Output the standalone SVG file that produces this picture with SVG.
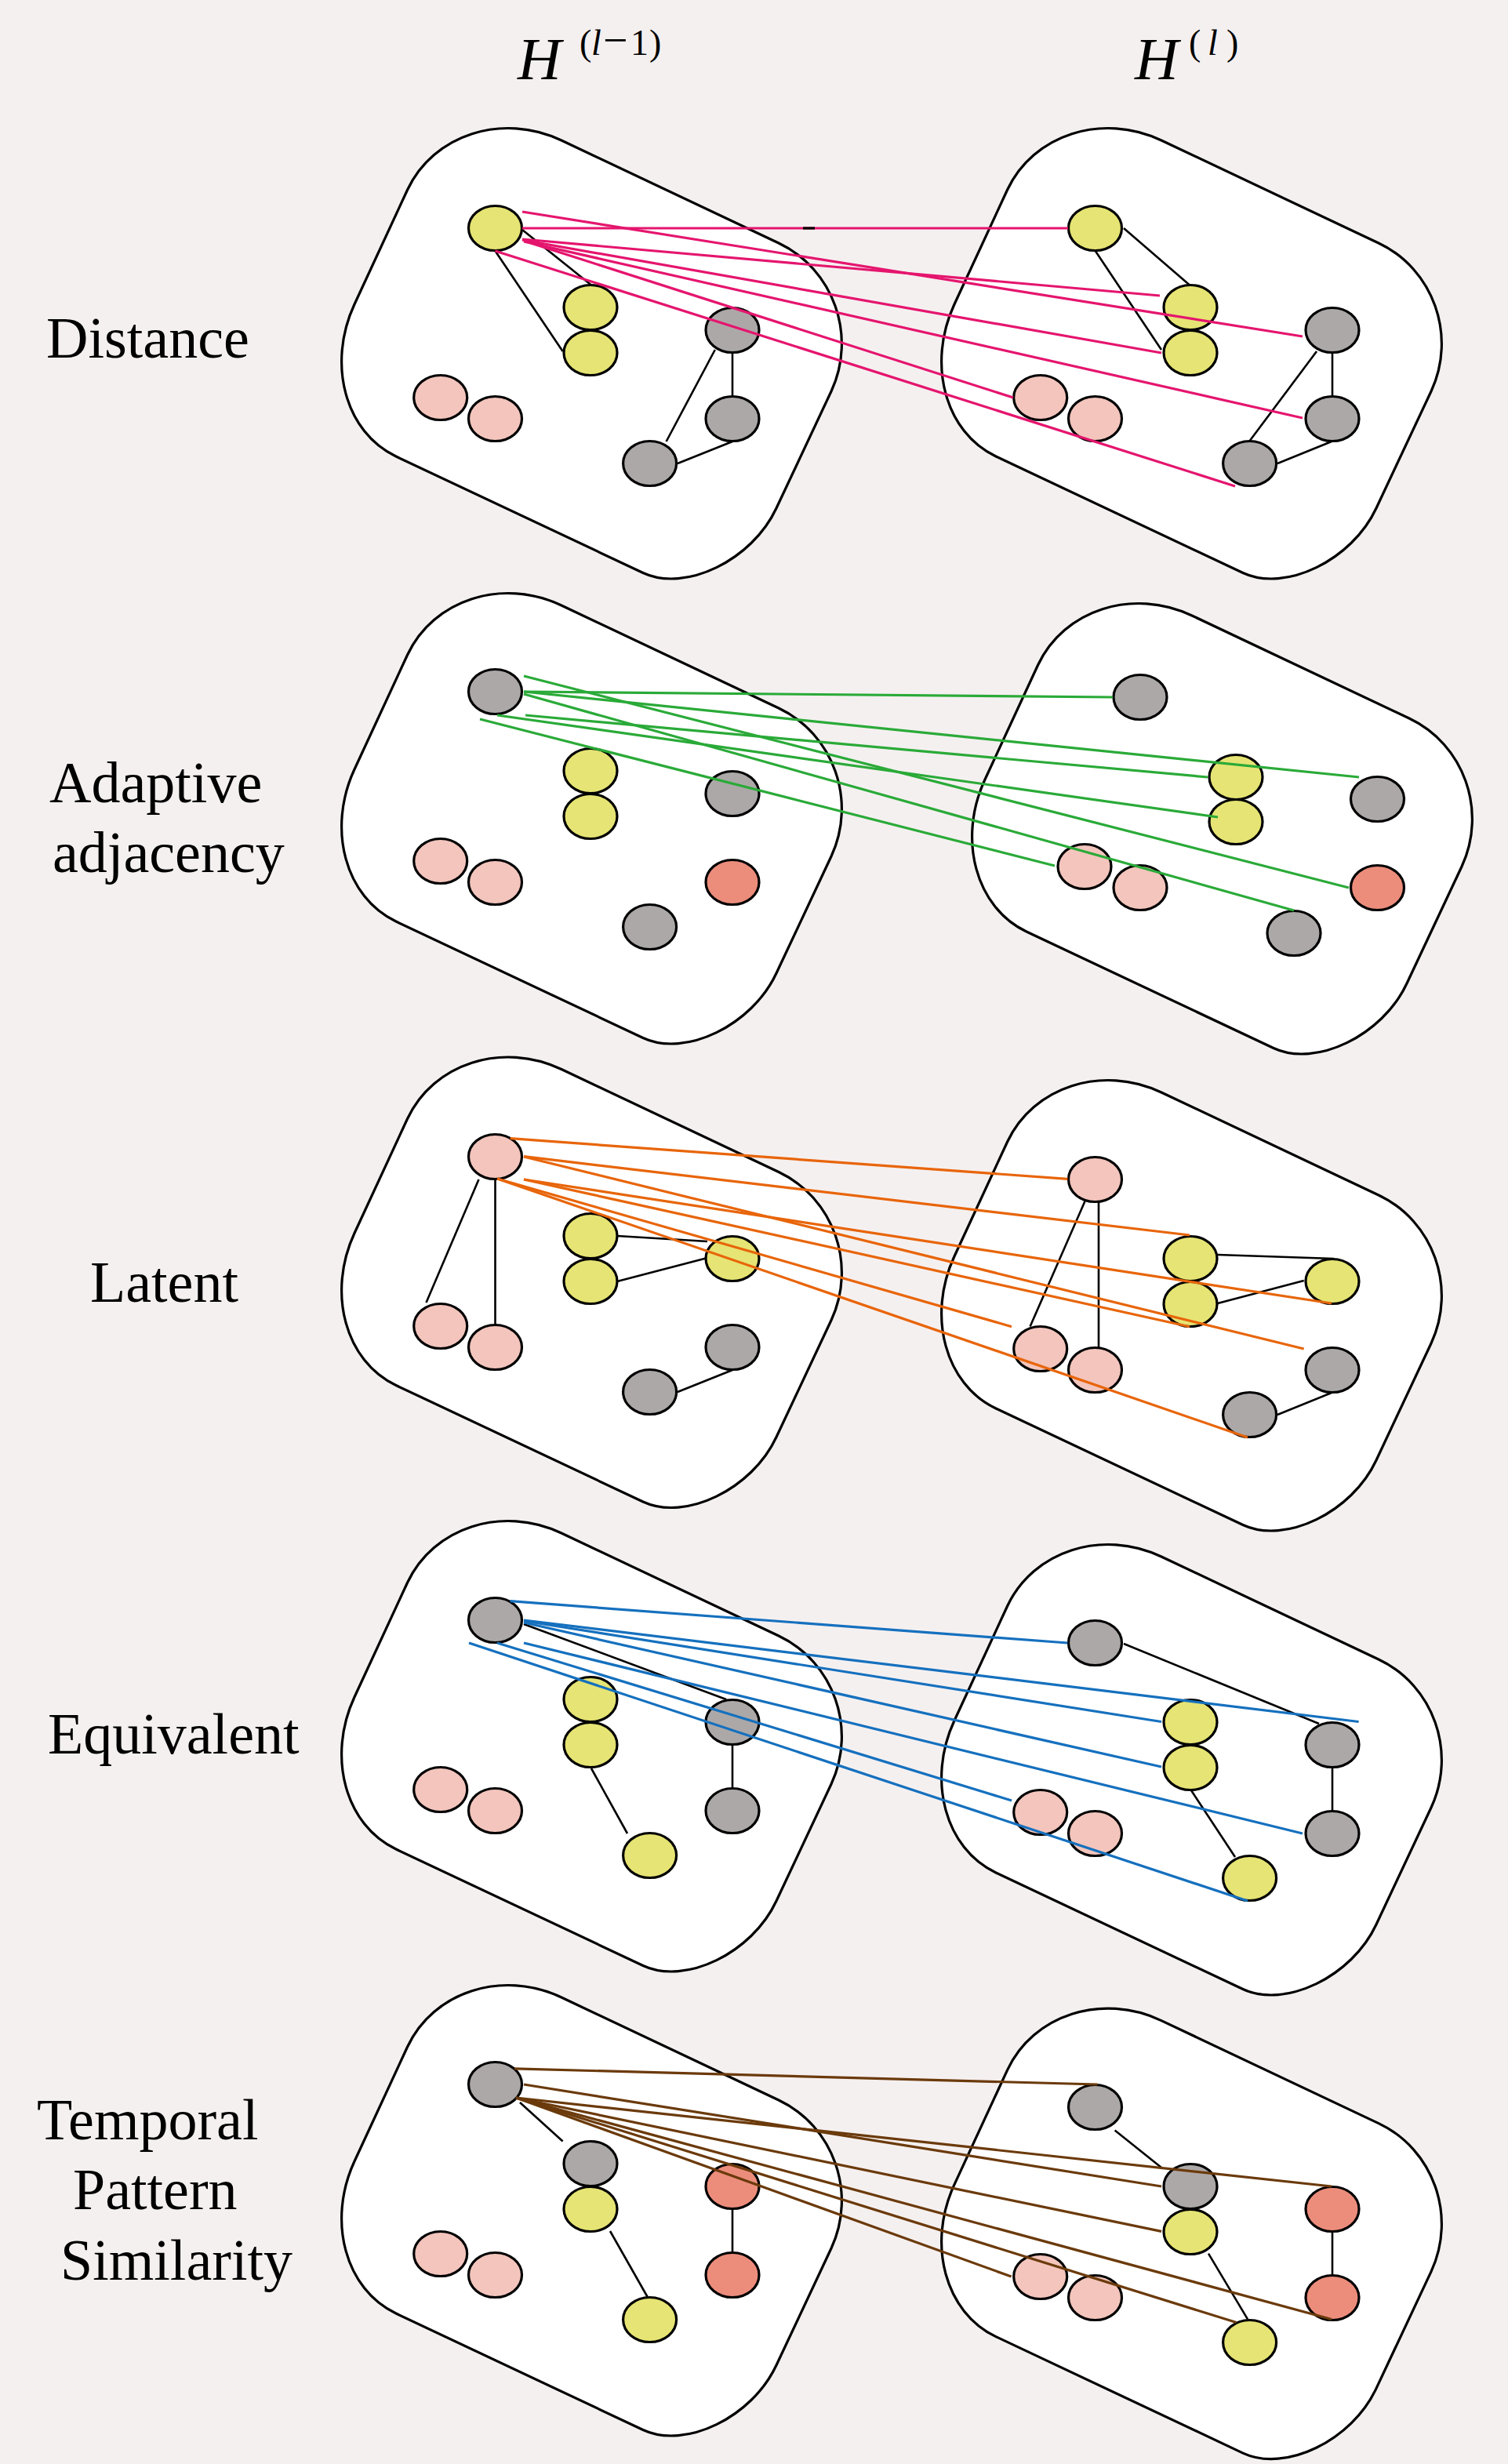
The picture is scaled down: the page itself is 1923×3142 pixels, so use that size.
<svg xmlns="http://www.w3.org/2000/svg" width="1923" height="3142" viewBox="0 0 1923 3142">
<style>
.bg{fill:#F5F0F0}
.blob{fill:#FFFFFF;stroke:#000;stroke-width:3.2}
.node ellipse{stroke:#000;stroke-width:3.2}
.y{fill:#E6E474}.g{fill:#ADA8A8}.p{fill:#F3C5BD}.r{fill:#EC8D7C}
.e{stroke:#000;stroke-width:2.6;fill:none}
.c1{stroke:#E5156E;stroke-width:3.2;fill:none}
.c2{stroke:#2AAA38;stroke-width:3.2;fill:none}
.c3{stroke:#E8650A;stroke-width:3.2;fill:none}
.c4{stroke:#1570BE;stroke-width:3.2;fill:none}
.c5{stroke:#6B3A0B;stroke-width:3.2;fill:none}
.lbl{font-family:"Liberation Serif","Times New Roman",serif;font-size:74px;fill:#000}
.ttl{font-family:"Liberation Serif","Times New Roman",serif;font-size:77px;font-style:italic;fill:#000}
.sup{font-family:"Liberation Serif","Times New Roman",serif;font-size:46px;fill:#000}
</style>
<defs>
<path id="blob" d="M519.6,242 C552.3,171.6 640.6,143.2 716,179 L993,310 C1062.9,343 1093,428 1060,499 L990,648 C959,714.5 874,755.75 820,730.5 L505,582 C440.5,551.6 416.6,464.2 452,388 Z"/>
</defs>
<rect class="bg" x="0" y="0" width="1923" height="3142"/>

<g id="titles">
<text class="ttl" x="660" y="101">H</text>
<text class="sup" y="70"><tspan x="739">(</tspan><tspan x="754" font-style="italic">l</tspan><tspan x="769" font-size="56">−</tspan><tspan x="804">1</tspan><tspan x="828">)</tspan></text>
<text class="ttl" x="1447" y="101">H</text>
<text class="sup" y="70"><tspan x="1516">(</tspan><tspan x="1540" font-style="italic">l</tspan><tspan x="1564">)</tspan></text>
</g>
<g id="labels">
<text class="lbl" x="59" y="456">Distance</text>
<text class="lbl" x="63" y="1023">Adaptive</text>
<text class="lbl" x="67" y="1112">adjacency</text>
<text class="lbl" x="115" y="1660">Latent</text>
<text class="lbl" x="61" y="2236">Equivalent</text>
<text class="lbl" x="47" y="2728">Temporal</text>
<text class="lbl" x="93" y="2817">Pattern</text>
<text class="lbl" x="77" y="2907">Similarity</text>
</g>

<g id="blobs">
<use href="#blob" class="blob" transform="translate(0,0)"/>
<use href="#blob" class="blob" transform="translate(765,0)"/>
<use href="#blob" class="blob" transform="translate(0,593)"/>
<use href="#blob" class="blob" transform="translate(804,606)"/>
<use href="#blob" class="blob" transform="translate(0,1184.5)"/>
<use href="#blob" class="blob" transform="translate(765,1214)"/>
<use href="#blob" class="blob" transform="translate(0,1776)"/>
<use href="#blob" class="blob" transform="translate(765,1806)"/>
<use href="#blob" class="blob" transform="translate(0,2368)"/>
<use href="#blob" class="blob" transform="translate(765,2397.6)"/>
</g>

<g id="graph-edges">
<line class="e" x1="666" y1="293" x2="754" y2="363.5"/>
<line class="e" x1="631.5" y1="320" x2="717.6" y2="448"/>
<line class="e" x1="934" y1="450" x2="934" y2="505"/>
<line class="e" x1="911.8" y1="446" x2="849.6" y2="563"/>
<line class="e" x1="864" y1="591" x2="934" y2="563"/>
<line class="e" x1="1433" y1="291" x2="1517" y2="363.5"/>
<line class="e" x1="1396.8" y1="320" x2="1481" y2="446"/>
<line class="e" x1="1699" y1="450" x2="1699" y2="505"/>
<line class="e" x1="1679" y1="448" x2="1593" y2="563"/>
<line class="e" x1="1629" y1="591" x2="1698" y2="563"/>

<line class="e" x1="610.5" y1="1504" x2="543.5" y2="1661"/>
<line class="e" x1="631.5" y1="1504" x2="631.5" y2="1690"/>
<line class="e" x1="787" y1="1576" x2="902" y2="1583"/>
<line class="e" x1="787" y1="1634" x2="902" y2="1604"/>
<line class="e" x1="864" y1="1775" x2="934" y2="1747"/>
<line class="e" x1="1383.4" y1="1532" x2="1313.6" y2="1691.6"/>
<line class="e" x1="1401" y1="1533" x2="1401" y2="1718"/>
<line class="e" x1="1552.7" y1="1600" x2="1701" y2="1605"/>
<line class="e" x1="1552.7" y1="1662" x2="1662.7" y2="1633"/>
<line class="e" x1="1629" y1="1804" x2="1698" y2="1776"/>

<line class="e" x1="668" y1="2071" x2="926" y2="2167"/>
<line class="e" x1="754" y1="2255" x2="800" y2="2338"/>
<line class="e" x1="934" y1="2225" x2="934" y2="2280"/>
<line class="e" x1="1433" y1="2096" x2="1682" y2="2198"/>
<line class="e" x1="1519" y1="2283" x2="1575" y2="2368"/>
<line class="e" x1="1699" y1="2254" x2="1699" y2="2309"/>

<line class="e" x1="663" y1="2681" x2="717.6" y2="2730.5"/>
<line class="e" x1="778" y1="2845" x2="825.7" y2="2929"/>
<line class="e" x1="934" y1="2817" x2="934" y2="2872"/>
<line class="e" x1="1421.6" y1="2716.4" x2="1481" y2="2764"/>
<line class="e" x1="1541" y1="2873.6" x2="1591" y2="2957.4"/>
<line class="e" x1="1699" y1="2846" x2="1699" y2="2901"/>
</g>

<g id="nodes">
<g id="n1La" class="node"><ellipse class="y" cx="631.5" cy="291" rx="34" ry="28.5"/></g>
<g id="n1Lb" class="node"><ellipse class="y" cx="753" cy="392" rx="34" ry="28.5"/></g>
<g id="n1Lc" class="node"><ellipse class="y" cx="753" cy="450" rx="34" ry="28.5"/></g>
<g id="n1Ld" class="node"><ellipse class="g" cx="934" cy="421" rx="34" ry="28.5"/></g>
<g id="n1Le" class="node"><ellipse class="g" cx="934" cy="534" rx="34" ry="28.5"/></g>
<g id="n1Lf" class="node"><ellipse class="g" cx="828.6" cy="591" rx="34" ry="28.5"/></g>
<g id="n1Lg" class="node"><ellipse class="p" cx="561.7" cy="507" rx="34" ry="28.5"/></g>
<g id="n1Lh" class="node"><ellipse class="p" cx="631.5" cy="534" rx="34" ry="28.5"/></g>
<g id="n1Ra" class="node"><ellipse class="y" cx="1396.5" cy="291" rx="34" ry="28.5"/></g>
<g id="n1Rb" class="node"><ellipse class="y" cx="1518" cy="392" rx="34" ry="28.5"/></g>
<g id="n1Rc" class="node"><ellipse class="y" cx="1518" cy="450" rx="34" ry="28.5"/></g>
<g id="n1Rd" class="node"><ellipse class="g" cx="1699" cy="421" rx="34" ry="28.5"/></g>
<g id="n1Re" class="node"><ellipse class="g" cx="1699" cy="534" rx="34" ry="28.5"/></g>
<g id="n1Rf" class="node"><ellipse class="g" cx="1593.6" cy="591" rx="34" ry="28.5"/></g>
<g id="n1Rg" class="node"><ellipse class="p" cx="1326.7" cy="507" rx="34" ry="28.5"/></g>
<g id="n1Rh" class="node"><ellipse class="p" cx="1396.5" cy="534" rx="34" ry="28.5"/></g>

<g id="n2La" class="node"><ellipse class="g" cx="631.5" cy="882" rx="34" ry="28.5"/></g>
<g id="n2Lb" class="node"><ellipse class="y" cx="753" cy="983" rx="34" ry="28.5"/></g>
<g id="n2Lc" class="node"><ellipse class="y" cx="753" cy="1041" rx="34" ry="28.5"/></g>
<g id="n2Ld" class="node"><ellipse class="g" cx="934" cy="1012" rx="34" ry="28.5"/></g>
<g id="n2Le" class="node"><ellipse class="r" cx="934" cy="1125" rx="34" ry="28.5"/></g>
<g id="n2Lf" class="node"><ellipse class="g" cx="828.6" cy="1182" rx="34" ry="28.5"/></g>
<g id="n2Lg" class="node"><ellipse class="p" cx="561.7" cy="1098" rx="34" ry="28.5"/></g>
<g id="n2Lh" class="node"><ellipse class="p" cx="631.5" cy="1125" rx="34" ry="28.5"/></g>
<g id="n2Ra" class="node"><ellipse class="g" cx="1454" cy="889" rx="34" ry="28.5"/></g>
<g id="n2Rb" class="node"><ellipse class="y" cx="1576" cy="991" rx="34" ry="28.5"/></g>
<g id="n2Rc" class="node"><ellipse class="y" cx="1576" cy="1048" rx="34" ry="28.5"/></g>
<g id="n2Rd" class="node"><ellipse class="g" cx="1756.5" cy="1019" rx="34" ry="28.5"/></g>
<g id="n2Re" class="node"><ellipse class="r" cx="1756.5" cy="1132" rx="34" ry="28.5"/></g>
<g id="n2Rf" class="node"><ellipse class="g" cx="1650" cy="1190" rx="34" ry="28.5"/></g>
<g id="n2Rg" class="node"><ellipse class="p" cx="1383" cy="1105" rx="34" ry="28.5"/></g>
<g id="n2Rh" class="node"><ellipse class="p" cx="1454" cy="1132" rx="34" ry="28.5"/></g>

<g id="n3La" class="node"><ellipse class="p" cx="631.5" cy="1475" rx="34" ry="28.5"/></g>
<g id="n3Lb" class="node"><ellipse class="y" cx="753" cy="1576" rx="34" ry="28.5"/></g>
<g id="n3Lc" class="node"><ellipse class="y" cx="753" cy="1634" rx="34" ry="28.5"/></g>
<g id="n3Ld" class="node"><ellipse class="y" cx="934" cy="1605" rx="34" ry="28.5"/></g>
<g id="n3Le" class="node"><ellipse class="g" cx="934" cy="1718" rx="34" ry="28.5"/></g>
<g id="n3Lf" class="node"><ellipse class="g" cx="828.6" cy="1775" rx="34" ry="28.5"/></g>
<g id="n3Lg" class="node"><ellipse class="p" cx="561.7" cy="1691" rx="34" ry="28.5"/></g>
<g id="n3Lh" class="node"><ellipse class="p" cx="631.5" cy="1718" rx="34" ry="28.5"/></g>
<g id="n3Ra" class="node"><ellipse class="p" cx="1396.5" cy="1504" rx="34" ry="28.5"/></g>
<g id="n3Rb" class="node"><ellipse class="y" cx="1518" cy="1605" rx="34" ry="28.5"/></g>
<g id="n3Rc" class="node"><ellipse class="y" cx="1518" cy="1663" rx="34" ry="28.5"/></g>
<g id="n3Rd" class="node"><ellipse class="y" cx="1699" cy="1634" rx="34" ry="28.5"/></g>
<g id="n3Re" class="node"><ellipse class="g" cx="1699" cy="1747" rx="34" ry="28.5"/></g>
<g id="n3Rf" class="node"><ellipse class="g" cx="1593.6" cy="1804" rx="34" ry="28.5"/></g>
<g id="n3Rg" class="node"><ellipse class="p" cx="1326.7" cy="1720" rx="34" ry="28.5"/></g>
<g id="n3Rh" class="node"><ellipse class="p" cx="1396.5" cy="1747" rx="34" ry="28.5"/></g>

<g id="n4La" class="node"><ellipse class="g" cx="631.5" cy="2066" rx="34" ry="28.5"/></g>
<g id="n4Lb" class="node"><ellipse class="y" cx="753" cy="2167" rx="34" ry="28.5"/></g>
<g id="n4Lc" class="node"><ellipse class="y" cx="753" cy="2225" rx="34" ry="28.5"/></g>
<g id="n4Ld" class="node"><ellipse class="g" cx="934" cy="2196" rx="34" ry="28.5"/></g>
<g id="n4Le" class="node"><ellipse class="g" cx="934" cy="2309" rx="34" ry="28.5"/></g>
<g id="n4Lf" class="node"><ellipse class="y" cx="828.6" cy="2366" rx="34" ry="28.5"/></g>
<g id="n4Lg" class="node"><ellipse class="p" cx="561.7" cy="2282" rx="34" ry="28.5"/></g>
<g id="n4Lh" class="node"><ellipse class="p" cx="631.5" cy="2309" rx="34" ry="28.5"/></g>
<g id="n4Ra" class="node"><ellipse class="g" cx="1396.5" cy="2095" rx="34" ry="28.5"/></g>
<g id="n4Rb" class="node"><ellipse class="y" cx="1518" cy="2196" rx="34" ry="28.5"/></g>
<g id="n4Rc" class="node"><ellipse class="y" cx="1518" cy="2254" rx="34" ry="28.5"/></g>
<g id="n4Rd" class="node"><ellipse class="g" cx="1699" cy="2225" rx="34" ry="28.5"/></g>
<g id="n4Re" class="node"><ellipse class="g" cx="1699" cy="2338" rx="34" ry="28.5"/></g>
<g id="n4Rf" class="node"><ellipse class="y" cx="1593.6" cy="2395" rx="34" ry="28.5"/></g>
<g id="n4Rg" class="node"><ellipse class="p" cx="1326.7" cy="2311" rx="34" ry="28.5"/></g>
<g id="n4Rh" class="node"><ellipse class="p" cx="1396.5" cy="2338" rx="34" ry="28.5"/></g>

<g id="n5La" class="node"><ellipse class="g" cx="631.5" cy="2658" rx="34" ry="28.5"/></g>
<g id="n5Lb" class="node"><ellipse class="g" cx="753" cy="2759" rx="34" ry="28.5"/></g>
<g id="n5Lc" class="node"><ellipse class="y" cx="753" cy="2817" rx="34" ry="28.5"/></g>
<g id="n5Ld" class="node"><ellipse class="r" cx="934" cy="2788" rx="34" ry="28.5"/></g>
<g id="n5Le" class="node"><ellipse class="r" cx="934" cy="2901" rx="34" ry="28.5"/></g>
<g id="n5Lf" class="node"><ellipse class="y" cx="828.6" cy="2958" rx="34" ry="28.5"/></g>
<g id="n5Lg" class="node"><ellipse class="p" cx="561.7" cy="2874" rx="34" ry="28.5"/></g>
<g id="n5Lh" class="node"><ellipse class="p" cx="631.5" cy="2901" rx="34" ry="28.5"/></g>
<g id="n5Ra" class="node"><ellipse class="g" cx="1396.5" cy="2687" rx="34" ry="28.5"/></g>
<g id="n5Rb" class="node"><ellipse class="g" cx="1518" cy="2788" rx="34" ry="28.5"/></g>
<g id="n5Rc" class="node"><ellipse class="y" cx="1518" cy="2846" rx="34" ry="28.5"/></g>
<g id="n5Rd" class="node"><ellipse class="r" cx="1699" cy="2817" rx="34" ry="28.5"/></g>
<g id="n5Re" class="node"><ellipse class="r" cx="1699" cy="2930" rx="34" ry="28.5"/></g>
<g id="n5Rf" class="node"><ellipse class="y" cx="1593.6" cy="2987" rx="34" ry="28.5"/></g>
<g id="n5Rg" class="node"><ellipse class="p" cx="1326.7" cy="2903" rx="34" ry="28.5"/></g>
<g id="n5Rh" class="node"><ellipse class="p" cx="1396.5" cy="2930" rx="34" ry="28.5"/></g>
</g>

<g id="connectors">
<line class="c1" x1="666" y1="291" x2="1362" y2="291"/>
<line x1="1024" y1="291" x2="1039" y2="291" stroke="#000" stroke-width="3.2"/>
<line class="c1" x1="666" y1="270" x2="1661" y2="429"/>
<line class="c1" x1="666" y1="305" x2="1479" y2="377"/>
<line class="c1" x1="666" y1="306" x2="1481" y2="450"/>
<line class="c1" x1="668" y1="308" x2="1661" y2="533"/>
<line class="c1" x1="677" y1="310" x2="1292" y2="507"/>
<line class="c1" x1="631.5" y1="320" x2="1575" y2="620"/>

<line class="c2" x1="668" y1="882" x2="1419" y2="889"/>
<line class="c2" x1="668" y1="882" x2="1733" y2="991"/>
<line class="c2" x1="670" y1="912" x2="1540" y2="991"/>
<line class="c2" x1="634" y1="912" x2="1553" y2="1042"/>
<line class="c2" x1="668" y1="862" x2="1720" y2="1132"/>
<line class="c2" x1="668" y1="885" x2="1650" y2="1161"/>
<line class="c2" x1="612" y1="917" x2="1345" y2="1104"/>

<line class="c3" x1="650.6" y1="1451.7" x2="1361.4" y2="1503.4"/>
<line class="c3" x1="668" y1="1474.7" x2="1517" y2="1575"/>
<line class="c3" x1="668" y1="1504" x2="1698" y2="1662"/>
<line class="c3" x1="668" y1="1475" x2="1662.7" y2="1720"/>
<line class="c3" x1="668" y1="1504" x2="1517" y2="1691.7"/>
<line class="c3" x1="634" y1="1503" x2="1290" y2="1691.7"/>
<line class="c3" x1="634" y1="1503" x2="1591" y2="1833"/>

<line class="c4" x1="650.6" y1="2041.7" x2="1361.4" y2="2095"/>
<line class="c4" x1="668" y1="2066" x2="1732.6" y2="2195.5"/>
<line class="c4" x1="668" y1="2067" x2="1481" y2="2195.5"/>
<line class="c4" x1="668" y1="2069" x2="1481" y2="2253"/>
<line class="c4" x1="668" y1="2095" x2="1661" y2="2338"/>
<line class="c4" x1="634" y1="2095" x2="1290" y2="2296"/>
<line class="c4" x1="598" y1="2095" x2="1591" y2="2424"/>

<line class="c5" x1="656" y1="2637.8" x2="1399.6" y2="2658"/>
<line class="c5" x1="668" y1="2658" x2="1481" y2="2788"/>
<line class="c5" x1="658" y1="2675" x2="1698" y2="2788"/>
<line class="c5" x1="658" y1="2675" x2="1481" y2="2845.4"/>
<line class="c5" x1="658" y1="2675" x2="1698" y2="2957.5"/>
<line class="c5" x1="658" y1="2675" x2="1576.6" y2="2961.5"/>
<line class="c5" x1="658" y1="2675" x2="1289.6" y2="2903"/>
</g>
</svg>
